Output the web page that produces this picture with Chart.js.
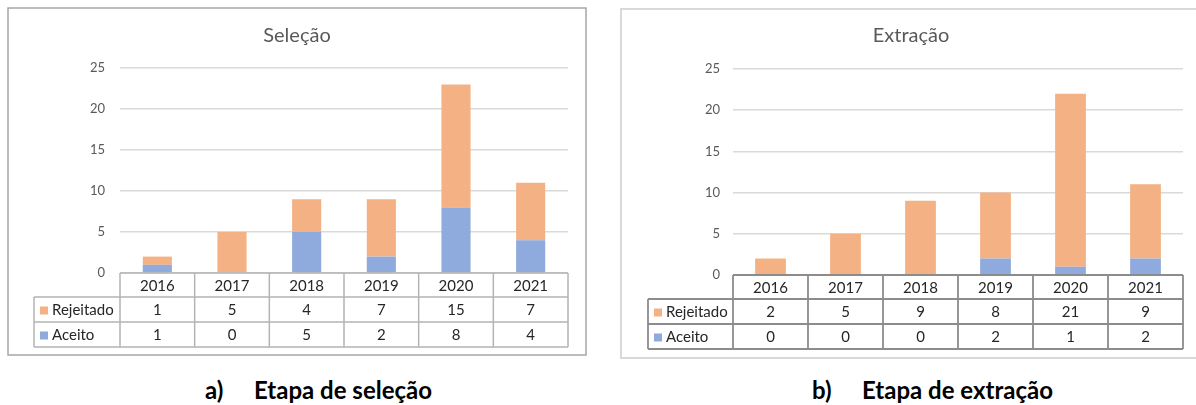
<!DOCTYPE html>
<html>
<head>
<meta charset="utf-8">
<script src="https://cdn.jsdelivr.net/npm/chart.js@4.4.1/dist/chart.umd.min.js"></script>
<style>
  html, body { margin: 0; padding: 0; background: #ffffff; }
  body { width: 1196px; height: 405px; position: relative; overflow: hidden; font-family: Lato, "Noto Sans", sans-serif; }
  canvas { position: absolute; top: 0; }
  .cap { position: absolute; top: 378px; font-family: Lato, "Noto Sans", sans-serif; font-weight: bold; font-size: 24px; line-height: 24px; color: #000; white-space: nowrap; }
</style>
</head>
<body>
<canvas id="c1" width="600" height="362" style="left:0px"></canvas>
<canvas id="c2" width="596" height="362" style="left:600px"></canvas>
<div class="cap" style="left:205px">a)</div>
<div class="cap" style="left:254px">Etapa de seleção</div>
<div class="cap" style="left:812px">b)</div>
<div class="cap" style="left:862px">Etapa de extração</div>
<script>
// ---- data ----
const categories = ['2016', '2017', '2018', '2019', '2020', '2021'];
const seriesNames = ['Rejeitado', 'Aceito'];
const selecaoRejeitado = [1, 5, 4, 7, 15, 7];
const selecaoAceito = [1, 0, 5, 2, 8, 4];
const extracaoRejeitado = [2, 5, 9, 8, 21, 9];
const extracaoAceito = [0, 0, 0, 2, 1, 2];
const yMax = 25;
const yStep = 5;

const ORANGE = '#f4b183';
const BLUE = '#8faadc';

Chart.defaults.font.family = 'Lato, "Noto Sans", sans-serif';
Chart.defaults.animation = false;

// frame + data table plugin
const tablePlugin = {
  id: 'excelTable',
  beforeDraw(chart, args, o) {
    const ctx = chart.ctx;
    ctx.save();
    ctx.strokeStyle = o.frameColor;
    ctx.lineWidth = o.frameWidth;
    const f = o.frame;
    ctx.strokeRect(f[0], f[1], f[2], f[3]);
    ctx.restore();
  },
  afterDraw(chart, args, o) {
    const ctx = chart.ctx;
    const a = chart.chartArea;
    const labels = chart.data.labels;
    const n = labels.length;
    const cw = (a.right - a.left) / n;
    const y0 = a.bottom;
    const yH = y0 + o.headerH;
    const y1 = yH + o.rowH;
    const y2 = y1 + o.rowH;
    const L = o.legendLeft;
    ctx.save();
    ctx.strokeStyle = o.lineColor;
    ctx.lineWidth = o.lineWidth;
    ctx.beginPath();
    ctx.moveTo(a.left, y0); ctx.lineTo(a.right, y0);
    ctx.moveTo(L, yH); ctx.lineTo(a.right, yH);
    ctx.moveTo(L, y1); ctx.lineTo(a.right, y1);
    ctx.moveTo(L, y2); ctx.lineTo(a.right, y2);
    for (let i = 0; i <= n; i++) {
      const x = a.left + i * cw;
      ctx.moveTo(x, y0); ctx.lineTo(x, y2);
    }
    ctx.moveTo(L, yH); ctx.lineTo(L, y2);
    ctx.stroke();

    ctx.fillStyle = '#262626';
    ctx.font = '15px Lato, "Noto Sans", sans-serif';
    ctx.textAlign = 'center';
    ctx.textBaseline = 'middle';
    for (let i = 0; i < n; i++) {
      const cx = chart.scales.x.getPixelForValue(i);
      ctx.fillText(labels[i], cx, (y0 + yH) / 2 + 1);
    }
    // rows: draw in reverse dataset order (top series first)
    const order = [...chart.data.datasets].reverse();
    const rowsY = [(yH + y1) / 2 + 1, (y1 + y2) / 2 + 1];
    order.forEach((ds, r) => {
      ctx.textAlign = 'center';
      ctx.fillStyle = '#262626';
      ds.data.forEach((v, i) => {
        const cx = chart.scales.x.getPixelForValue(i);
        ctx.fillText(String(v), cx, rowsY[r]);
      });
      ctx.fillStyle = ds.backgroundColor;
      ctx.fillRect(L + o.markerOff, rowsY[r] - 4, 8, 8);
      ctx.fillStyle = '#262626';
      ctx.textAlign = 'left';
      ctx.fillText(ds.label, L + o.markerOff + 12, rowsY[r]);
    });
    ctx.restore();
  }
};

function makeChart(id, title, rej, ace, opt) {
  return new Chart(document.getElementById(id), {
    type: 'bar',
    data: {
      labels: categories,
      datasets: [
        { label: seriesNames[1], data: ace, backgroundColor: BLUE, borderWidth: 0 },
        { label: seriesNames[0], data: rej, backgroundColor: ORANGE, borderWidth: 0 }
      ]
    },
    options: {
      responsive: false,
      devicePixelRatio: 1,
      layout: { padding: opt.padding },
      datasets: { bar: { categoryPercentage: 1, barPercentage: opt.barPct } },
      scales: {
        x: { stacked: true, display: false },
        y: {
          stacked: true, min: 0, max: yMax,
          ticks: { stepSize: yStep, color: '#595959', font: { size: 13 }, padding: opt.tickPad },
          grid: { color: '#d9d9d9', lineWidth: 1.5, drawTicks: false },
          border: { display: false },
          afterFit(s) { s.width = opt.axisW; }
        }
      },
      plugins: {
        legend: { display: false },
        tooltip: { enabled: false },
        title: { display: false },
        excelTable: opt.table
      }
    },
    plugins: [tablePlugin, {
      id: 'ttl',
      afterDraw(chart) {
        const ctx = chart.ctx;
        ctx.save();
        ctx.fillStyle = '#595959';
        ctx.font = '20px Lato, "Noto Sans", sans-serif';
        ctx.textAlign = 'center';
        ctx.textBaseline = 'middle';
        ctx.fillText(title, opt.titleX, 36);
        ctx.restore();
      }
    }]
  });
}

makeChart('c1', 'Seleção', selecaoRejeitado, selecaoAceito, {
  padding: { left: 0, right: 32, top: 68, bottom: 89 },
  axisW: 120, tickPad: 15, barPct: 0.39, titleX: 297,
  table: { frame: [8, 8, 578, 347], frameColor: '#a6a6a6', frameWidth: 1.5,
           lineColor: '#b4b4b4', lineWidth: 1.5, headerH: 24, rowH: 25, legendLeft: 34, markerOff: 6 }
});
makeChart('c2', 'Extração', extracaoRejeitado, extracaoAceito, {
  padding: { left: 0, right: 13, top: 69, bottom: 87 },
  axisW: 133, tickPad: 13, barPct: 0.41, titleX: 311,
  table: { frame: [21, 9, 600, 349], frameColor: '#d9d9d9', frameWidth: 2,
           lineColor: '#8c8c8c', lineWidth: 1.8, headerH: 24, rowH: 25, legendLeft: 48, markerOff: 6 }
});
</script>
</body>
</html>
